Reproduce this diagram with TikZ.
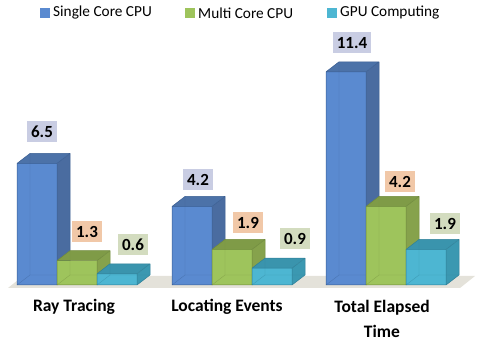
\documentclass[tikz,border=0pt]{standalone}
\usepackage{fontspec}
\setmainfont{Carlito}
\definecolor{bFront}{HTML}{5A8AD0}
\definecolor{bTop}{HTML}{4C72A8}
\definecolor{bSide}{HTML}{4A6CA0}
\definecolor{bEdge}{HTML}{3A5E92}
\definecolor{gFront}{HTML}{9EC45C}
\definecolor{gTop}{HTML}{7F9B47}
\definecolor{gSide}{HTML}{86A24C}
\definecolor{gEdge}{HTML}{6F8A3C}
\definecolor{cFront}{HTML}{4DB6D2}
\definecolor{cTop}{HTML}{3A94AD}
\definecolor{cSide}{HTML}{3B98B1}
\definecolor{cEdge}{HTML}{2F8098}
\definecolor{lBlue}{HTML}{C9CDE3}
\definecolor{lOrange}{HTML}{F1C8A8}
\definecolor{lGreen}{HTML}{D3DCBF}
\definecolor{floorC}{HTML}{E4E2DA}
\newcommand\drawbar[6]{%
  \pgfmathsetmacro\bh{18.7*#2}%
  \fill[#5] (#1+40,285) -- ++(13,-10) -- ++(0,-\bh) -- ++(-13,10) -- cycle;
  \fill[#3] (#1,285) rectangle ++(40,-\bh);
  \fill[#4] (#1,285-\bh) -- ++(13,-10) -- ++(40,0) -- ++(-13,10) -- cycle;
  \draw[#6, line width=0.4pt, opacity=0.45] (#1+13,275) -- ++(0,-\bh) (#1+13,275) -- ++(40,0) (#1,285) -- (#1+13,275);
  \draw[#6, line width=0.5pt, line join=round] (#1,285) rectangle ++(40,-\bh)
    (#1,285-\bh) -- ++(13,-10) -- ++(40,0) -- ++(-13,10)
    (#1+53,275-\bh) -- (#1+53,275) -- (#1+40,285);
}
\tikzset{
  vlabel/.style={font=\bfseries\fontsize{17}{17}\selectfont, inner xsep=4pt, inner ysep=0pt,
    minimum height=21pt, text height=11pt, text depth=0pt},
  cat/.style={font=\bfseries\fontsize{17.5}{25}\selectfont, align=center},
  leg/.style={font=\fontsize{15.3}{15}\selectfont, anchor=west, inner sep=0pt},
}
\begin{document}
\begin{tikzpicture}[x=1pt,y=-1pt]
\useasboundingbox (0,0) rectangle (477,344);
% floor
\fill[floorC] (8,288) -- (460,288) -- (475,276) -- (23,276) -- cycle;
% group 1
\drawbar{17}{6.5}{bFront}{bTop}{bSide}{bEdge}
\drawbar{57}{1.3}{gFront}{gTop}{gSide}{gEdge}
\drawbar{97}{0.6}{cFront}{cTop}{cSide}{cEdge}
% group 2
\drawbar{172}{4.2}{bFront}{bTop}{bSide}{bEdge}
\drawbar{212}{1.9}{gFront}{gTop}{gSide}{gEdge}
\drawbar{252}{0.9}{cFront}{cTop}{cSide}{cEdge}
% group 3
\drawbar{326}{11.4}{bFront}{bTop}{bSide}{bEdge}
\drawbar{366}{4.2}{gFront}{gTop}{gSide}{gEdge}
\drawbar{406}{1.9}{cFront}{cTop}{cSide}{cEdge}
% value labels
\node[vlabel, fill=lBlue]   (v11) at (42,132) {6.5};
\node[vlabel, fill=lOrange] (v12) at (87,232) {1.3};
\node[vlabel, fill=lGreen]  (v13) at (133,245) {0.6};
\node[vlabel, fill=lBlue]   (v21) at (198,180) {4.2};
\node[vlabel, fill=lOrange] (v22) at (248,223) {1.9};
\node[vlabel, fill=lGreen]  (v23) at (295,239) {0.9};
\node[vlabel, fill=lBlue]   (v31) at (352,43) {11.4};
\node[vlabel, fill=lOrange] (v32) at (400,182) {4.2};
\node[vlabel, fill=lGreen]  (v33) at (445,224) {1.9};
% category labels
\node[cat] (c1) at (74,307) {Ray Tracing};
\node[cat] (c2) at (227,307) {Locating Events};
\node[cat, anchor=north] (c3) at (382,297) {Total Elapsed\\Time};
% legend
\fill[bFront] (40,8) rectangle (50,18);
\node[leg] (l1) at (53,13) {Single Core CPU};
\fill[gFront] (185,8) rectangle (195,18);
\node[leg] (l2) at (198,13) {Multi Core CPU};
\fill[cFront] (327,8) rectangle (337,18);
\node[leg] (l3) at (340,13) {GPU Computing};
\end{tikzpicture}
\end{document}
